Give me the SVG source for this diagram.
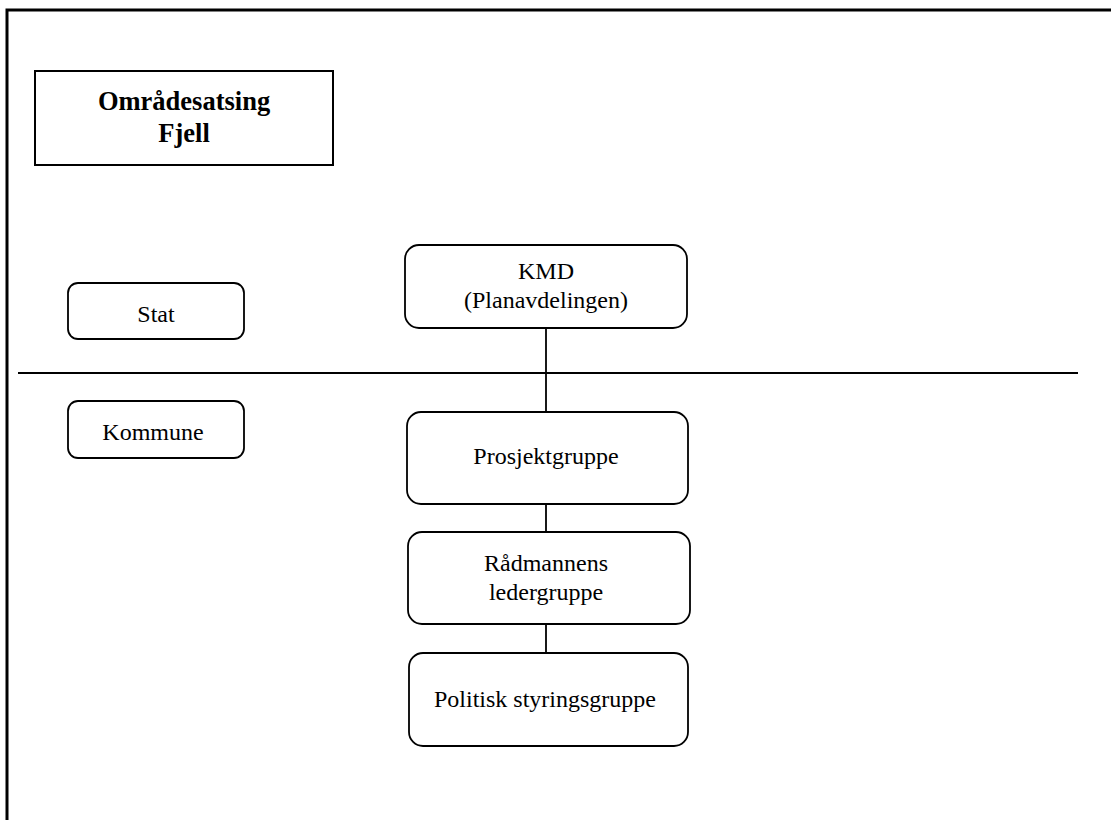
<svg xmlns="http://www.w3.org/2000/svg" width="1111" height="820" viewBox="0 0 1111 820">
<style>
.box{fill:#fff;stroke:#000;stroke-width:1.8}
.t{font-family:"Liberation Serif","Times New Roman",serif;font-size:24px;fill:#000;text-anchor:middle}
.b{font-weight:bold;font-size:26.5px}
.ln{stroke:#000;stroke-width:1.8;fill:none}
</style>
<rect width="1111" height="820" fill="#fff"/>
<g id="frame">
<path d="M7,820 V10 H1111" fill="none" stroke="#000" stroke-width="3"/>
</g>
<g id="connectors">
<line class="ln" x1="18" y1="373" x2="1078" y2="373"/>
<line class="ln" x1="546" y1="328" x2="546" y2="412"/>
<line class="ln" x1="546" y1="504" x2="546" y2="532"/>
<line class="ln" x1="546" y1="624" x2="546" y2="653"/>
</g>
<g id="title">
<rect x="35" y="71" width="298" height="94" fill="#fff" stroke="#000" stroke-width="2"/>
<text class="t b" x="184" y="110">Områdesatsing</text>
<text class="t b" x="184" y="142">Fjell</text>
</g>
<g id="stat">
<rect class="box" x="68" y="283" width="176" height="56" rx="10"/>
<text class="t" x="156" y="322">Stat</text>
</g>
<g id="kommune">
<rect class="box" x="68" y="401" width="176" height="57" rx="10"/>
<text class="t" x="153" y="440">Kommune</text>
</g>
<g id="kmd">
<rect class="box" x="405" y="245" width="282" height="83" rx="14"/>
<text class="t" x="546" y="279">KMD</text>
<text class="t" x="546" y="308">(Planavdelingen)</text>
</g>
<g id="prosjekt">
<rect class="box" x="407" y="412" width="281" height="92" rx="14"/>
<text class="t" x="546" y="464">Prosjektgruppe</text>
</g>
<g id="radmann">
<rect class="box" x="408" y="532" width="282" height="92" rx="14"/>
<text class="t" x="546" y="571">Rådmannens</text>
<text class="t" x="546" y="600">ledergruppe</text>
</g>
<g id="politisk">
<rect class="box" x="409" y="653" width="279" height="93" rx="14"/>
<text class="t" x="545" y="707">Politisk styringsgruppe</text>
</g>
</svg>
